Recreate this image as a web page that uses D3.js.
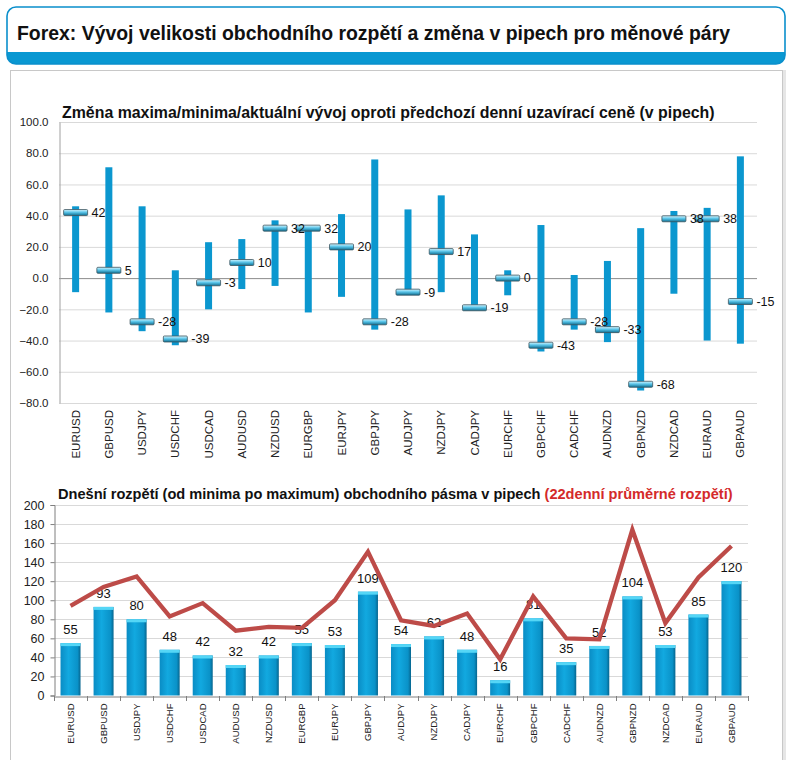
<!DOCTYPE html>
<html><head><meta charset="utf-8">
<script src="https://cdn.jsdelivr.net/npm/d3@7/dist/d3.min.js"></script>
<style>
body{margin:0;background:#fff;}
svg{display:block;font-family:"Liberation Sans",Arial,sans-serif;}
</style></head>
<body><svg id="c" width="792" height="760"></svg>
<script>
const pairs = ["EURUSD","GBPUSD","USDJPY","USDCHF","USDCAD","AUDUSD","NZDUSD","EURGBP","EURJPY","GBPJPY","AUDJPY","NZDJPY","CADJPY","EURCHF","GBPCHF","CADCHF","AUDNZD","GBPNZD","NZDCAD","EURAUD","GBPAUD"];
const highs   = [46, 71, 46, 5, 23, 25, 37, 33, 41, 76, 44, 53, 28, 5, 34, 2, 11, 32, 43, 45, 78];
const lows    = [-9, -22, -34, -43, -20, -7, -5, -22, -12, -33, -10, -9, -20, -11, -47, -33, -41, -72, -10, -40, -42];
const current = [42, 5, -28, -39, -3, 10, 32, 32, 20, -28, -9, 17, -19, 0, -43, -28, -33, -68, 38, 38, -15];
const topTicks = [-80,-60,-40,-20,0,20,40,60,80,100];

const todayRange = [55, 93, 80, 48, 42, 32, 42, 55, 53, 109, 54, 62, 48, 16, 81, 35, 52, 104, 53, 85, 120];
const avgRange22 = [94, 114, 125, 83, 97, 68, 72, 71, 100, 151, 79, 73, 86, 38, 104, 60, 59, 174, 76, 124, 157];
const bottomTicks = [0,20,40,60,80,100,120,140,160,180,200];

const headerTitle = "Forex: Vývoj velikosti obchodního rozpětí a změna v pipech pro měnové páry";
const topTitle = "Změna maxima/minima/aktuální vývoj oproti předchozí denní uzavírací ceně (v pipech)";
const bottomTitleA = "Dnešní rozpětí (od minima po maximum) obchodního pásma v pipech ";
const bottomTitleB = "(22denní průměrné rozpětí)";

const svg = d3.select("#c");
const defs = svg.append("defs");

// gradients
const gm = defs.append("linearGradient").attr("id","mk").attr("x1",0).attr("y1",0).attr("x2",0).attr("y2",1);
gm.append("stop").attr("offset","0%").attr("stop-color","#d8f6ff");
gm.append("stop").attr("offset","45%").attr("stop-color","#5cc6ea");
gm.append("stop").attr("offset","100%").attr("stop-color","#0d6d90");
const gb = defs.append("linearGradient").attr("id","bar").attr("x1",0).attr("y1",0).attr("x2",1).attr("y2",0);
gb.append("stop").attr("offset","0%").attr("stop-color","#0a8cc4");
gb.append("stop").attr("offset","40%").attr("stop-color","#12a9e0");
gb.append("stop").attr("offset","85%").attr("stop-color","#0a92c8");
gb.append("stop").attr("offset","100%").attr("stop-color","#06658e");

// header
svg.append("rect").attr("x",7).attr("y",7).attr("width",778).attr("height",57).attr("rx",9)
  .attr("fill","#0998d2");
svg.append("path").attr("d","M7,52 L7,16 Q7,7 16,7 L776,7 Q785,7 785,16 L785,52 Z").attr("fill","#fff");
svg.append("rect").attr("x",7).attr("y",7).attr("width",778).attr("height",57).attr("rx",9)
  .attr("fill","none").attr("stroke","#0a8fcc").attr("stroke-width",1.6);
svg.append("text").attr("x",17).attr("y",40).attr("font-size",21)
  .attr("font-family","'Liberation Sans Narrow','Liberation Sans',Arial,sans-serif")
  .attr("font-weight","bold").attr("fill","#111")
  .attr("textLength",713).attr("lengthAdjust","spacingAndGlyphs").text(headerTitle);

// panel
svg.append("rect").attr("x",12).attr("y",72).attr("width",772).attr("height",700)
  .attr("fill","none").attr("stroke","#e6e6e6").attr("stroke-width",4);
svg.append("rect").attr("x",10.5).attr("y",70.5).attr("width",772).attr("height",700)
  .attr("fill","#fff").attr("stroke","#c8c8c8").attr("stroke-width",1);

// ===== TOP CHART =====
const tX0 = 59, tX1 = 757;
const ty = d3.scaleLinear().domain([-80,100]).range([403,122]);
const tx = d3.scaleBand().domain(pairs).range([tX0,tX1]);
const gT = svg.append("g");
gT.append("text").attr("x",62).attr("y",118).attr("font-size",15.9).attr("font-weight","bold")
  .attr("fill","#111").text(topTitle);
gT.append("g").selectAll("line").data(topTicks).join("line")
  .attr("x1",tX0).attr("x2",tX1).attr("y1",d=>ty(d)+0.5).attr("y2",d=>ty(d)+0.5)
  .attr("stroke",d=>d===0?"#8c8c8c":"#d9d9d9").attr("stroke-width",1);
const tyAxis = d3.axisLeft(ty).tickValues(topTicks).tickFormat(d3.format(".1f")).tickSize(0).tickPadding(11);
const ya = gT.append("g").attr("transform",`translate(${tX0+0.5},0)`).call(tyAxis);
ya.select(".domain").attr("stroke","#a0a0a0");
ya.selectAll("text").attr("font-size",11.5).attr("fill","#222").attr("font-family","'Liberation Sans',Arial,sans-serif");
const txAxis = d3.axisBottom(tx).tickSize(0).tickPadding(0);
const xa = gT.append("g").attr("transform",`translate(0,${ty(-80)})`).call(txAxis);
xa.select(".domain").remove();
xa.selectAll("text").attr("font-size",11.5).attr("fill","#222").attr("font-family","'Liberation Sans',Arial,sans-serif")
  .attr("transform","rotate(-90)").attr("text-anchor","end").attr("dy","0.35em").attr("x",-7).attr("y",0);

const cx = d=>tx(d)+tx.bandwidth()/2;
gT.append("g").selectAll("rect").data(pairs).join("rect")
  .attr("x",(d)=>cx(d)-3.5).attr("width",7)
  .attr("y",(d,i)=>ty(highs[i])).attr("height",(d,i)=>ty(lows[i])-ty(highs[i]))
  .attr("fill","#0b97cf");
gT.append("g").selectAll("rect").data(pairs).join("rect")
  .attr("x",d=>cx(d)-12).attr("width",24)
  .attr("y",(d,i)=>ty(current[i])-3).attr("height",6).attr("rx",1)
  .attr("fill","url(#mk)").attr("stroke","#3c5560").attr("stroke-width",0.8);
gT.append("g").selectAll("text").data(pairs).join("text")
  .attr("x",d=>cx(d)+16).attr("y",(d,i)=>ty(current[i])).attr("dy","0.35em")
  .attr("font-size",12.5).attr("fill","#111").text((d,i)=>current[i]);

// ===== BOTTOM CHART =====
const bX0 = 54, bX1 = 748;
const by = d3.scaleLinear().domain([0,200]).range([695.5,505]);
const bx = d3.scaleBand().domain(pairs).range([bX0,bX1]);
const gB = svg.append("g");
const bt = gB.append("text").attr("x",58).attr("y",499).attr("font-size",14.6).attr("font-weight","bold").attr("fill","#111");
bt.append("tspan").text(bottomTitleA);
bt.append("tspan").attr("fill","#d42a2a").text(bottomTitleB);
gB.append("g").selectAll("line").data(bottomTicks.filter(d=>d>0)).join("line")
  .attr("x1",bX0).attr("x2",bX1).attr("y1",d=>Math.round(by(d))+0.5).attr("y2",d=>Math.round(by(d))+0.5)
  .attr("stroke","#d9d9d9");
const byAxis = d3.axisLeft(by).tickValues(bottomTicks).tickSize(4).tickPadding(6);
const bya = gB.append("g").attr("transform",`translate(${bX0+0.5},0)`).call(byAxis);
bya.select(".domain").attr("stroke","#7f7f7f");
bya.selectAll(".tick line").attr("stroke","#7f7f7f");
bya.selectAll("text").attr("font-size",12.5).attr("fill","#222").attr("font-family","'Liberation Sans',Arial,sans-serif");
const bxAxis = d3.axisBottom(bx).tickSize(0).tickPadding(0);
const bxa = gB.append("g").attr("transform",`translate(0,${Math.round(by(0))+0.5})`).call(bxAxis);
bxa.select(".domain").attr("stroke","#7f7f7f");
bxa.selectAll("text").attr("font-size",9.5).attr("fill","#222").attr("font-family","'Liberation Sans',Arial,sans-serif")
  .attr("transform","rotate(-90)").attr("text-anchor","end").attr("dy","0.35em").attr("x",-7).attr("y",0);
// boundary ticks
gB.append("g").selectAll("line").data(d3.range(pairs.length+1)).join("line")
  .attr("x1",i=>Math.round(bX0+i*bx.step())+0.5).attr("x2",i=>Math.round(bX0+i*bx.step())+0.5)
  .attr("y1",Math.round(by(0))).attr("y2",Math.round(by(0))+5).attr("stroke","#7f7f7f");

const bcx = d=>bx(d)+bx.bandwidth()/2;
const bw = 20;
const bars = gB.append("g");
bars.selectAll("rect.b").data(pairs).join("rect").attr("class","b")
  .attr("x",d=>bcx(d)-bw/2).attr("width",bw)
  .attr("y",(d,i)=>by(todayRange[i])).attr("height",(d,i)=>by(0)-by(todayRange[i]))
  .attr("fill","url(#bar)");
bars.selectAll("rect.c").data(pairs).join("rect").attr("class","c")
  .attr("x",d=>bcx(d)-bw/2).attr("width",bw)
  .attr("y",(d,i)=>by(todayRange[i])).attr("height",3)
  .attr("fill","#55d6f6");
gB.append("g").selectAll("text").data(pairs).join("text")
  .attr("x",d=>bcx(d)).attr("y",(d,i)=>by(todayRange[i])-9).attr("text-anchor","middle")
  .attr("font-size",13).attr("fill","#111").text((d,i)=>todayRange[i]);

const line = d3.line().x(d=>bcx(d.p)).y(d=>by(d.v));
gB.append("path").datum(pairs.map((p,i)=>({p,v:avgRange22[i]})))
  .attr("d",line).attr("fill","none").attr("stroke","#bd4b48").attr("stroke-width",4.3)
  .attr("stroke-linejoin","miter");
</script></body></html>
